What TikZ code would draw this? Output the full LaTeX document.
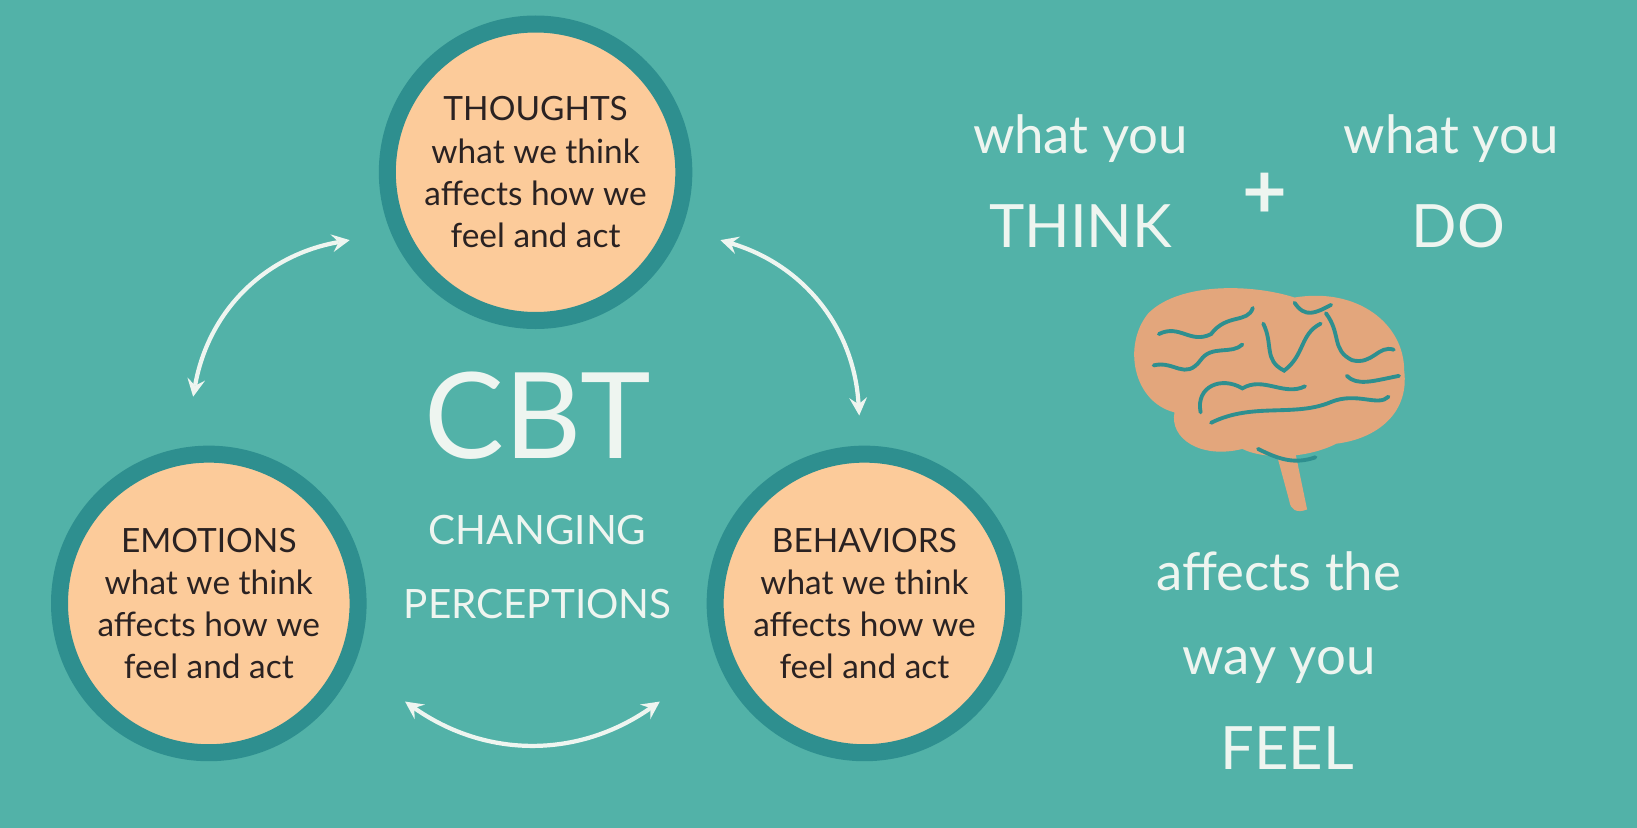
\documentclass[tikz,border=0pt]{standalone}
\usepackage{fontspec}
\setmainfont{Lato}
\definecolor{bgteal}{HTML}{52B2A8}
\definecolor{ringteal}{HTML}{2E8F8F}
\definecolor{peach}{HTML}{FCCB9A}
\definecolor{inkdark}{HTML}{2A2222}
\definecolor{softwhite}{HTML}{EEF5F0}
\definecolor{brainfill}{HTML}{E3A67C}
\tikzset{
  idea/.style={circle,fill=peach,draw=ringteal,line width=1.7mm,
    inner sep=0pt,text=inkdark,align=center,font=\fontsize{9.5}{12}\selectfont},
  loop/.style={<->,>=stealth,draw=softwhite,line width=1.2pt},
  side/.style={text=softwhite,font=\fontsize{15}{18}\selectfont},
  brainline/.style={draw=ringteal,line width=1.1pt,line cap=round}
}
\begin{document}
\begin{tikzpicture}[x=0.01044cm,y=-0.01044cm]
  \fill[bgteal] (0,0) rectangle (1568,793);
  \useasboundingbox (0,0) rectangle (1568,793);
  % the three circles
  \node[idea,minimum size=284*0.01044cm] (thoughts) at (513,165) {THOUGHTS\\what we think\\affects how we\\feel and act};
  \node[idea,minimum size=286*0.01044cm] (emotions) at (200,578) {EMOTIONS\\what we think\\affects how we\\feel and act};
  \node[idea,minimum size=286*0.01044cm] (behaviors) at (828,578) {BEHAVIORS\\what we think\\affects how we\\feel and act};
  % centre text
  \node[text=softwhite,font=\fontsize{34}{34}\selectfont] (cbt) at (515,398) {CBT};
  \node[text=softwhite,font=\fontsize{11.5}{17}\selectfont,align=center] (changing) at (515,543) {CHANGING\\[4pt]PERCEPTIONS};
  % arrows
  \coordinate (a1) at (335,230); \coordinate (a2) at (185,380);
  \coordinate (b1) at (690,230); \coordinate (b2) at (823,398);
  \coordinate (c1) at (388,672); \coordinate (c2) at (632,672);
  \draw[loop] (a1) to[bend right=35] (a2);
  \draw[loop] (b1) to[bend left=35] (b2);
  \draw[loop] (c1) to[bend right=35] (c2);
  % right side
  \node[side] (think1) at (1035,133) {what you};
  \node[side,font=\fontsize{17}{20}\selectfont] (think) at (1035,217) {THINK};
  \node[side,font=\bfseries\fontsize{22}{22}\selectfont] (plus) at (1212,188) {+};
  \node[side] (do1) at (1390,133) {what you};
  \node[side,font=\fontsize{17}{20}\selectfont] (do) at (1397,217) {DO};
  \node[side] (aff) at (1225,547) {affects the};
  \node[side] (way) at (1225,637) {way you};
  \node[side,font=\fontsize{17}{20}\selectfont] (feel) at (1233,717) {FEEL};
  % brain
  \fill[brainfill] (1240,430) -- (1252,488) .. controls (1242,492) and (1236,488) .. (1235,480) -- (1222,432) -- cycle;
  \fill[brainfill] (1100,300) .. controls (1130,270) and (1200,272) .. (1240,285)
    .. controls (1300,275) and (1345,310) .. (1345,355)
    .. controls (1350,395) and (1320,420) .. (1280,425)
    .. controls (1250,440) and (1210,440) .. (1190,430)
    .. controls (1150,440) and (1120,420) .. (1125,395)
    .. controls (1085,385) and (1075,330) .. (1100,300) -- cycle;
  \draw[brainline] (1160,405) .. controls (1200,385) and (1240,400) .. (1275,385) .. controls (1300,375) and (1320,390) .. (1330,380);
  \draw[brainline] (1150,395) .. controls (1145,370) and (1170,360) .. (1190,372) .. controls (1210,360) and (1230,380) .. (1250,370);
  \draw[brainline] (1110,320) .. controls (1130,310) and (1140,330) .. (1160,320) .. controls (1175,300) and (1195,310) .. (1200,295);
  \draw[brainline] (1105,350) .. controls (1125,345) and (1135,365) .. (1150,345) .. controls (1160,330) and (1180,340) .. (1190,330);
  \draw[brainline] (1210,310) .. controls (1220,330) and (1210,345) .. (1230,355) .. controls (1250,340) and (1245,320) .. (1265,310);
  \draw[brainline] (1270,300) .. controls (1285,320) and (1275,335) .. (1295,345) .. controls (1315,350) and (1320,330) .. (1335,335);
  \draw[brainline] (1240,290) .. controls (1250,305) and (1260,300) .. (1275,292);
  \draw[brainline] (1290,360) .. controls (1300,370) and (1315,365) .. (1340,360);
  \draw[brainline] (1205,430) .. controls (1225,440) and (1240,445) .. (1260,438);
\end{tikzpicture}
\end{document}
